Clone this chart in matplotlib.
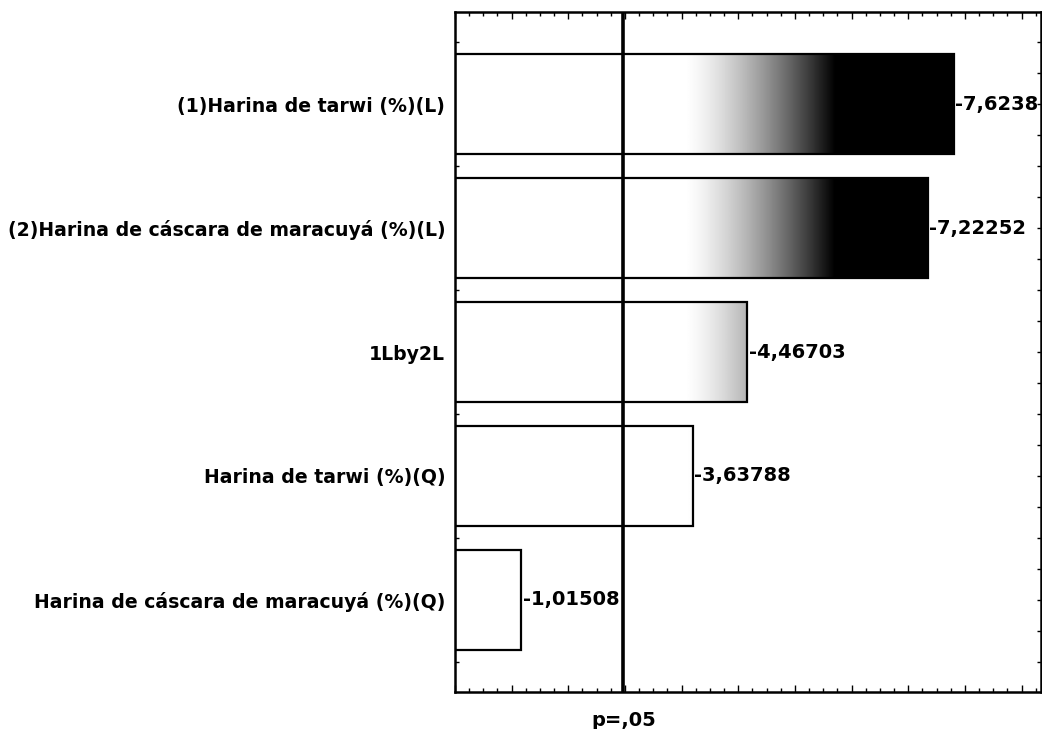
import numpy as np
import matplotlib
matplotlib.use("Agg")
import matplotlib.pyplot as plt
from matplotlib.patches import Rectangle
from matplotlib.ticker import MultipleLocator, FixedLocator

# Standardized effects (Pareto chart)
factors = [
    "(1)Harina de tarwi (%)(L)",
    "(2)Harina de cáscara de maracuyá (%)(L)",
    "1Lby2L",
    "Harina de tarwi (%)(Q)",
    "Harina de cáscara de maracuyá (%)(Q)",
]
effects = [-7.6238, -7.22252, -4.46703, -3.63788, -1.01508]
p_crit = 2.5706
p_label = "p=,05"

plt.rcParams["font.family"] = ["DejaVu Sans"]

fig = plt.figure(figsize=(10.42, 7.29), dpi=100)
ax = fig.add_axes([455 / 1042, 1 - 692 / 729, (1041 - 455) / 1042, (692 - 12) / 729])

xmax = 8.95
ax.set_xlim(0, xmax)
ax.set_ylim(len(factors) - 1 + 0.745, -0.745)

# horizontal white-to-black shading used inside the bars
xs = np.linspace(0, xmax, 600)
t = np.clip((xs - 3.5) / 2.3, 0, 1)
shade = 1 - t ** 1.4
grad = np.tile(shade, (2, 1))

bar_h = 0.81
for i, v in enumerate(effects):
    mag = abs(v)
    rect = Rectangle((0, i - bar_h / 2), mag, bar_h, facecolor="none",
                     edgecolor="black", linewidth=1.6, zorder=3)
    ax.add_patch(rect)
    im = ax.imshow(grad, cmap="gray", vmin=0, vmax=1, aspect="auto",
                   extent=(0, xmax, i + bar_h / 2, i - bar_h / 2),
                   interpolation="bilinear", zorder=2)
    im.set_clip_path(rect)
    ax.text(mag + 0.02, i, f"{v:g}".replace(".", ","), ha="left", va="center",
            fontsize=14, fontweight="bold", color="black", zorder=5)

ax.axvline(p_crit, color="black", linewidth=2.6, zorder=4)
ax.text(p_crit, -0.028, p_label, transform=ax.get_xaxis_transform(),
        ha="center", va="top", fontsize=14, fontweight="bold")

# axes frame and ticks
for s in ax.spines.values():
    s.set_linewidth(1.8)
ax.set_yticks(range(len(factors)))
ax.set_yticklabels(factors, fontsize=13.6, fontweight="bold")
ax.yaxis.set_minor_locator(MultipleLocator(0.25))
step = 0.8654
ax.xaxis.set_major_locator(FixedLocator(np.arange(0, xmax, step)))
ax.xaxis.set_minor_locator(FixedLocator(np.arange(0, xmax, step / 4)))
ax.tick_params(axis="x", which="both", direction="in", top=True, bottom=True,
               labelbottom=False, width=1.0)
ax.tick_params(axis="x", which="major", length=5)
ax.tick_params(axis="x", which="minor", length=3)
ax.tick_params(axis="y", which="both", direction="in", left=True, right=True,
               length=3, width=1.0, pad=7)

fig.savefig("out.png", dpi=100)
